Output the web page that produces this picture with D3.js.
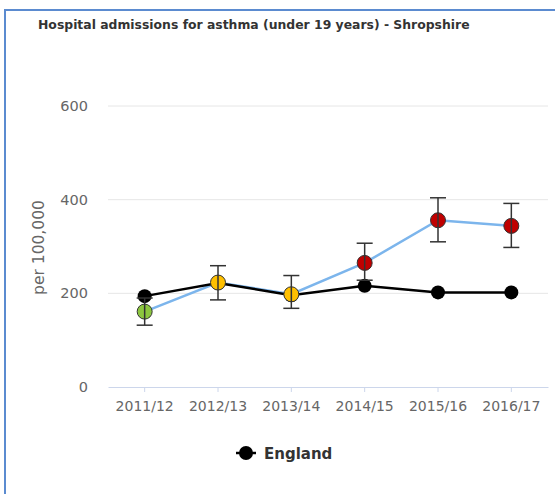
<!DOCTYPE html>
<html><head><meta charset="utf-8">
<script src="https://cdn.jsdelivr.net/npm/d3@7"></script>
<style>
html,body{margin:0;padding:0;background:#fff;}
svg{display:block;font-family:"DejaVu Sans",Verdana,sans-serif;}
</style></head>
<body>
<svg id="chart" width="555" height="494"></svg>
<script>
const categories = ["2011/12","2012/13","2013/14","2014/15","2015/16","2016/17"];
const areaValues = [161, 223, 198, 265, 356, 344];
const areaLower = [132, 186, 168, 228, 310, 298];
const areaUpper = [190, 259, 238, 307, 404, 392];
const areaColours = ["#8cc63f","#ffc000","#ffc000","#c00000","#c00000","#c00000"];
const englandValues = [194, 222, 196, 216, 202, 202];
const yTicks = [0, 200, 400, 600];

(function(){
const svg = d3.select("#chart");
svg.append("rect").attr("x",5).attr("y",10).attr("width",560).attr("height",500)
  .attr("fill","none").attr("stroke","#5b8bd0").attr("stroke-width",2);

svg.append("text").attr("x",38).attr("y",29).attr("font-size",12.4).attr("font-weight","bold")
  .attr("fill","#333").text("Hospital admissions for asthma (under 19 years) - Shropshire");

const pLeft = 108, pRight = 548, pTop = 106, pBottom = 387;
const x = d3.scaleBand().domain(categories).range([pLeft, pRight]);
const y = d3.scaleLinear().domain([0, 600]).range([pBottom, pTop]);
const cx = c => x(c) + x.bandwidth()/2;

svg.append("g").selectAll("line").data(yTicks.filter(t=>t>0)).join("line")
  .attr("x1",pLeft).attr("x2",pRight).attr("y1",d=>y(d)).attr("y2",d=>y(d))
  .attr("stroke","#e6e6e6").attr("stroke-width",1);

svg.append("g").selectAll("text").data(yTicks).join("text")
  .attr("x",88).attr("y",d=>y(d)+5).attr("text-anchor","end")
  .attr("font-size",14.5).attr("fill","#666").text(d=>d);

svg.append("text").attr("transform",`translate(44,${(pTop+pBottom)/2+1}) rotate(-90)`)
  .attr("text-anchor","middle").attr("font-size",15.5).attr("fill","#666").text("per 100,000");

const xAxis = d3.axisBottom(x).tickSize(5).tickSizeOuter(0);
const gx = svg.append("g").attr("transform",`translate(0,${pBottom})`).call(xAxis);
gx.select(".domain").attr("stroke","#ccd6eb");
gx.selectAll(".tick line").attr("stroke","#ccd6eb");
gx.selectAll(".tick text").attr("font-size",14).attr("fill","#666").attr("dy","1.15em")
  .attr("font-family","DejaVu Sans, sans-serif");

const line = d3.line().x((d,i)=>cx(categories[i])).y(d=>y(d));

svg.append("path").datum(areaValues).attr("d",line).attr("fill","none")
  .attr("stroke","#7cb5ec").attr("stroke-width",2.5);
svg.append("path").datum(englandValues).attr("d",line).attr("fill","none")
  .attr("stroke","#000").attr("stroke-width",2.5);

svg.append("g").selectAll("circle").data(englandValues).join("circle")
  .attr("cx",(d,i)=>cx(categories[i])).attr("cy",d=>y(d)).attr("r",7).attr("fill","#000");

svg.append("g").selectAll("circle").data(areaValues).join("circle")
  .attr("cx",(d,i)=>cx(categories[i])).attr("cy",d=>y(d)).attr("r",7.5)
  .attr("fill",(d,i)=>areaColours[i]).attr("stroke","#333").attr("stroke-width",1);

const eb = svg.append("g").attr("stroke","#333").attr("stroke-width",1.5);
categories.forEach((c,i)=>{
  const xc = cx(c);
  eb.append("line").attr("x1",xc).attr("x2",xc).attr("y1",y(areaLower[i])).attr("y2",y(areaUpper[i]));
  eb.append("line").attr("x1",xc-8).attr("x2",xc+8).attr("y1",y(areaLower[i])).attr("y2",y(areaLower[i]));
  eb.append("line").attr("x1",xc-8).attr("x2",xc+8).attr("y1",y(areaUpper[i])).attr("y2",y(areaUpper[i]));
});

const lg = svg.append("g").attr("transform","translate(246,453)");
lg.append("line").attr("x1",-10).attr("x2",10).attr("y1",0).attr("y2",0).attr("stroke","#000").attr("stroke-width",2.5);
lg.append("circle").attr("r",7).attr("fill","#000");
lg.append("text").attr("x",18).attr("y",5.5).attr("font-size",15).attr("font-weight","bold").attr("fill","#333").text("England");
})();
</script>
</body></html>
